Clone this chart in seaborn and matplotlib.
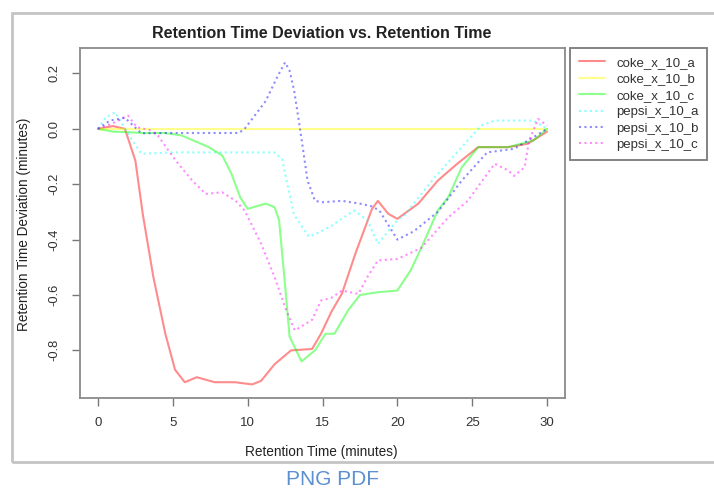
import matplotlib
matplotlib.use("Agg")
import matplotlib.pyplot as plt
import seaborn as sns
import pandas as pd
from matplotlib.patches import Rectangle

# ---------------- data ----------------
coke_a_t = [0, 1.0, 1.8, 2.5, 3.0, 3.7, 4.5, 5.15, 5.8, 6.6, 7.8, 9.15, 10.3, 10.9, 11.8, 12.9, 14.3, 14.9, 15.6, 16.3, 17.2, 18.3, 18.7, 19.4, 20.0, 21.4, 22.7, 24.0, 25.4, 27.4, 28.7, 30]
coke_a_v = [0, 0.01, 0, -0.115, -0.31, -0.535, -0.74, -0.87, -0.915, -0.897, -0.915, -0.915, -0.923, -0.91, -0.85, -0.80, -0.795, -0.74, -0.66, -0.595, -0.45, -0.29, -0.26, -0.307, -0.325, -0.27, -0.187, -0.126, -0.066, -0.066, -0.054, -0.01]

coke_b_t = [0, 30]
coke_b_v = [0, 0]

coke_c_t = [0, 1, 2, 3, 4.5, 5.6, 7.4, 8.3, 8.9, 9.5, 10.0, 11.2, 11.8, 12.1, 12.45, 12.8, 13.6, 14.5, 15.2, 15.8, 16.7, 17.5, 18.7, 20.0, 20.9, 21.6, 22.7, 23.4, 24.3, 25.4, 27.4, 29.1, 30]
coke_c_v = [0, -0.01, -0.012, -0.015, -0.015, -0.024, -0.066, -0.096, -0.16, -0.247, -0.289, -0.27, -0.283, -0.33, -0.535, -0.75, -0.84, -0.80, -0.74, -0.74, -0.656, -0.60, -0.59, -0.584, -0.51, -0.43, -0.295, -0.247, -0.139, -0.066, -0.066, -0.042, 0]

pepsi_a_t = [0, 0.5, 1.15, 2.3, 2.9, 5, 8, 11.8, 12.3, 13.1, 14.1, 14.9, 15.6, 17.1, 18.0, 18.7, 20.0, 20.5, 22.5, 24.3, 25.6, 26.5, 29.1, 30]
pepsi_a_v = [0, 0.04, 0.06, -0.042, -0.09, -0.085, -0.085, -0.085, -0.11, -0.31, -0.39, -0.37, -0.35, -0.295, -0.33, -0.415, -0.33, -0.31, -0.175, -0.066, 0.012, 0.03, 0.03, 0]

pepsi_b_t = [0, 0.8, 1.8, 2.9, 5, 9.4, 9.8, 10.5, 11.2, 12.0, 12.5, 12.8, 13.1, 13.5, 14.0, 14.5, 15.0, 16.3, 17.5, 18.3, 18.8, 20.0, 21.1, 22.7, 24.3, 26.0, 27.8, 29.1, 30]
pepsi_b_v = [0, 0.03, 0.04, -0.016, -0.015, -0.015, 0, 0.05, 0.10, 0.19, 0.24, 0.21, 0.14, 0, -0.187, -0.26, -0.265, -0.26, -0.27, -0.28, -0.295, -0.40, -0.37, -0.30, -0.187, -0.085, -0.072, -0.03, 0]

pepsi_c_t = [0, 1.0, 2.0, 2.6, 3.5, 4.0, 5.2, 6.3, 7.2, 8.3, 9.2, 9.8, 10.9, 11.8, 12.5, 13.15, 14.3, 14.9, 15.6, 16.3, 17.4, 18.0, 18.7, 20.0, 21.6, 23.4, 24.7, 26.5, 27.4, 27.8, 28.5, 28.8, 29.4, 30]
pepsi_c_v = [0, 0.02, 0.048, 0.006, -0.005, -0.024, -0.115, -0.187, -0.235, -0.229, -0.26, -0.295, -0.415, -0.535, -0.644, -0.728, -0.69, -0.62, -0.61, -0.584, -0.596, -0.535, -0.475, -0.47, -0.43, -0.32, -0.26, -0.126, -0.15, -0.17, -0.139, -0.042, 0.036, 0.012]

samples = ["coke_x_10_a", "coke_x_10_b", "coke_x_10_c", "pepsi_x_10_a", "pepsi_x_10_b", "pepsi_x_10_c"]
series_t = [coke_a_t, coke_b_t, coke_c_t, pepsi_a_t, pepsi_b_t, pepsi_c_t]
series_v = [coke_a_v, coke_b_v, coke_c_v, pepsi_a_v, pepsi_b_v, pepsi_c_v]
colors = ["#FF0000", "#FFFF00", "#00FF00", "#00FFFF", "#0000FF", "#FF00FF"]

x_ticks = [0, 5, 10, 15, 20, 25, 30]
y_ticks = [-0.8, -0.6, -0.4, -0.2, 0.0, 0.2]

rows = []
for name, ts, vs in zip(samples, series_t, series_v):
    for i, (t, v) in enumerate(zip(ts, vs)):
        rows.append({"time": t, "dev": v, "sample": name, "order": i})
df = pd.DataFrame(rows)

# ---------------- plot ----------------
sns.set_style("white")
plt.rcParams["font.family"] = ["Liberation Sans", "DejaVu Sans"]

W, H = 714, 490
fig = plt.figure(figsize=(W / 100, H / 100), dpi=100)
ax = fig.add_axes([80 / W, 1 - 398 / H, (565 - 80) / W, (398 - 48) / H])

palette = dict(zip(samples, colors))
dashes = {s: ("" if s.startswith("coke") else (1, 1.6)) for s in samples}
sns.lineplot(data=df, x="time", y="dev", hue="sample", style="sample",
             palette=palette, dashes=dashes, sort=False, estimator=None,
             units="sample", alpha=0.45, linewidth=1.5, ax=ax, legend=True)

ax.set_xlim(-1.2, 31.2)
ax.set_ylim(-0.972, 0.292)
ax.set_xticks(x_ticks)
ax.set_xticklabels([str(v) for v in x_ticks], fontsize=9.5, color="#333333")
ax.set_yticks(y_ticks)
ax.set_yticklabels([f"{v:.1f}" for v in y_ticks], fontsize=9.3, rotation=90,
                   va="center", color="#333333")
ax.tick_params(axis="both", which="both", direction="out", length=6,
               width=1, color="#777777", pad=8, left=True, bottom=True)
ax.set_xlabel("")
ax.set_ylabel("")
for sp in ax.spines.values():
    sp.set_color("#8a8a8a")
    sp.set_linewidth(1.3)

# legend outside on the right
handles, labels = ax.get_legend_handles_labels()
ax.legend_.remove()
leg = fig.legend(handles, labels, loc="upper left",
                 bbox_to_anchor=(570 / W, 1 - 48 / H), frameon=True,
                 fancybox=False, framealpha=1, edgecolor="#7a7a7a",
                 fontsize=9.5, handlelength=2.0, handletextpad=0.85,
                 labelspacing=0.32, borderpad=0.65, borderaxespad=0)
leg.get_frame().set_linewidth(1.3)
for t in leg.get_texts():
    t.set_color("#333333")

# texts
fig.text(322 / W, 1 - 34 / H, "Retention Time Deviation vs. Retention Time",
         ha="center", va="center", fontsize=11.5, fontweight="bold", color="#222222")
fig.text(321 / W, 1 - 452 / H, "Retention Time (minutes)", ha="center",
         va="center", fontsize=9.8, color="#222222")
fig.text(24 / W, 1 - 224 / H, "Retention Time Deviation (minutes)", ha="center",
         va="center", rotation=90, fontsize=9.8, color="#222222")
fig.text(333 / W, 1 - 479 / H, "PNG PDF", ha="center", va="center",
         fontsize=15, color="#5b8fd0")

# outer page frame
fig.add_artist(Rectangle((12 / W, 1 - 462 / H), (W + 20) / W, (462 - 13) / H,
                         transform=fig.transFigure, fill=False,
                         edgecolor="#c4c4c4", linewidth=2, clip_on=False))

fig.savefig("out.png", dpi=100)
